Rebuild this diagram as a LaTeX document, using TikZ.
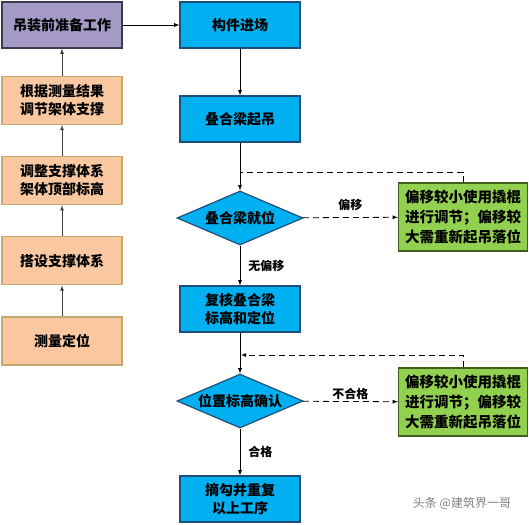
\documentclass[tikz,border=0pt]{standalone}
\usepackage{fontspec}
\setmainfont{Noto Sans CJK SC}
\usetikzlibrary{arrows, shapes.geometric, positioning}

\definecolor{prepfill}{HTML}{A59AC6}
\definecolor{prepline}{HTML}{3C3C50}
\definecolor{peachfill}{HTML}{FAC8A0}
\definecolor{peachline}{HTML}{C4A870}
\definecolor{bluefill}{HTML}{00B0F0}
\definecolor{blueline}{HTML}{1F4E79}
\definecolor{greenfill}{HTML}{92D050}
\definecolor{greenline}{HTML}{3F5F1F}

\newcommand{\dtext}[1]{\makebox[0pt]{#1}}

\tikzset{
  leftbox/.style = {rectangle, draw=peachline, fill=peachfill, line width=1.2pt,
    minimum width=120pt, minimum height=48pt, align=center,
    font=\bfseries\fontsize{14}{18}\selectfont},
  prepbox/.style = {leftbox, draw=prepline, fill=prepfill, minimum height=46pt},
  bluebox/.style = {rectangle, draw=blueline, fill=bluefill, line width=1.2pt,
    minimum width=120pt, minimum height=46pt, align=center,
    font=\bfseries\fontsize{14}{18}\selectfont},
  decision/.style = {diamond, draw=blueline, fill=bluefill, line width=1.2pt,
    inner sep=0pt, minimum width=126pt, minimum height=54pt,
    font=\bfseries\fontsize{14}{18}\selectfont},
  fixbox/.style = {rectangle, draw=greenline, fill=greenfill, line width=1.2pt,
    minimum width=129pt, minimum height=68pt, inner sep=2pt, align=center,
    font=\bfseries\fontsize{14.5}{20}\selectfont},
  lbl/.style = {font=\bfseries\fontsize{12}{14}\selectfont, inner sep=2pt},
  back/.style = {dash pattern=on 6pt off 4pt},
}

\begin{document}
\begin{tikzpicture}[x=1pt, y=-1pt, ->, >=latex, node distance=31pt, line width=0.8pt]
    \useasboundingbox (0,0) rectangle (529,524);

    % left column, bottom to top
    \node[leftbox]  (measure)                 at (62,341)  {测量定位};
    \node[leftbox]  (erect)   [above=of measure]            {搭设支撑体系};
    \node[leftbox]  (level)   [above=of erect]              {调整支撑体系\\架体顶部标高};
    \node[leftbox]  (adjust)  [above=of level]              {根据测量结果\\调节架体支撑};
    \node[prepbox]  (prep)                    at (62,25)   {吊装前准备工作};

    % right column
    \node[bluebox]  (arrive)                  at (240,25)  {构件进场};
    \node[bluebox]  (lift)                    at (240,119) {叠合梁起吊};
    \node[decision] (place)                   at (240,218) {\dtext{叠合梁就位}};
    \node[bluebox]  (check)                   at (240,309) {复核叠合梁\\标高和定位};
    \node[decision] (confirm)                 at (240,401) {\dtext{位置标高确认}};
    \node[bluebox]  (repeat)                  at (240,499) {摘勾并重复\\以上工序};
    \node[fixbox]   (fix1)                    at (463,217) {偏移较小使用撬棍\\进行调节；偏移较\\大需重新起吊落位};
    \node[fixbox]   (fix2)                    at (463,402) {偏移较小使用撬棍\\进行调节；偏移较\\大需重新起吊落位};
    \coordinate     (back1)                   at (240,172);
    \coordinate     (back2)                   at (241,355);

    \path[black!75] (measure) edge              (erect);
    \path[black!75] (erect)   edge              (level);
    \path[black!75] (level)   edge              (adjust);
    \path[black!75] (adjust)  edge              (prep);
    \path (prep)    edge                            (arrive);
    \path (arrive)  edge                            (lift);
    \path (lift)    edge                            (place);
    \path (place)   edge[back]    node[lbl, above=4pt] {偏移}  (fix1);
    \path (place)   edge          node[lbl, right=6pt] {无偏移} (check);
    \path (check)   edge                            (confirm);
    \path (confirm) edge[back]    node[lbl, above=-1pt] {不合格} (fix2);
    \path (confirm) edge          node[lbl, right=6pt] {合格}   (repeat);
    \draw[back, -] (fix1.north) |- (back1);
    \draw[back]    (fix2.north) |- (back2);

    \node[text=gray, font=\fontsize{12}{14}\selectfont] (mark) at (462,503) {头条 @建筑界一哥};
\end{tikzpicture}
\end{document}
